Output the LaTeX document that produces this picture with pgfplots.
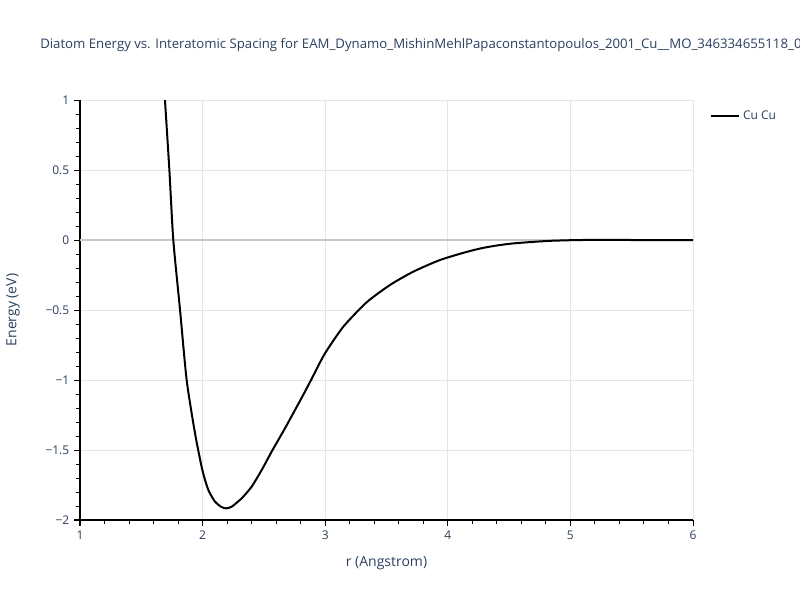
\documentclass[border=0pt]{standalone}
\usepackage{pgfplots}
\pgfplotsset{compat=1.18}
\usepackage{fontspec}
\setmainfont{Open Sans}
\definecolor{txt}{HTML}{2A3F5F}
\definecolor{grd}{HTML}{E5E5E5}
\definecolor{zl}{HTML}{C8C8C8}
\begin{document}
\begin{tikzpicture}[x=0.75pt,y=0.75pt]
\clip (0,0) rectangle (800,600);
\node[anchor=west, font=\fontsize{9.9}{12}\selectfont, text=txt, inner sep=0pt] at (40,555) {Diatom Energy vs. Interatomic Spacing for EAM\_Dynamo\_MishinMehlPapaconstantopoulos\_2001\_Cu\_\_MO\_346334655118\_005};
\begin{axis}[
  at={(60pt,60pt)}, anchor=south west,
  scale only axis, width=459.75pt, height=315pt,
  xmin=1, xmax=6, ymin=-2, ymax=1,
  axis x line*=bottom, axis y line*=left,
  axis line style={black, line width=0.75pt, -},
  xtick={1,2,3,4,5,6}, xticklabels={1,2,3,4,5,6},
  ytick={-2,-1.5,-1,-0.5,0,0.5,1},
  yticklabels={−2,−1.5,−1,−0.5,0,0.5,1},
  minor x tick num=4, minor y tick num=4,
  tick align=outside,
  major tick length=4.5pt, minor tick length=3pt,
  tick style={black, line width=0.75pt},
  grid=major, major grid style={grd, line width=0.75pt},
  extra y ticks={0}, extra y tick labels={},
  extra y tick style={grid=major, major grid style={zl, line width=1.5pt}},
  ticklabel style={font=\fontsize{9}{11}\selectfont, text=txt},
  xlabel={r (Angstrom)}, ylabel={Energy (eV)},
  label style={font=\fontsize{10.5}{12}\selectfont, text=txt},
  xlabel style={at={(axis description cs:0.5,-0.1024)}, anchor=center},
  ylabel style={at={(axis description cs:-0.1093,0.5)}, anchor=center},
  legend style={at={(axis description cs:1.028,0.962)}, anchor=west, draw=none, fill=none, inner sep=0pt, font=\fontsize{9}{11}\selectfont, text=txt},
  legend cell align=left,
  legend image code/.code={\draw[#1] (0pt,0pt) -- (21pt,0pt);},
]
\addplot[black, line width=1.5pt, smooth, tension=0.4] coordinates {
(1.68,1.18) (1.693,1.0) (1.729,0.5) (1.761,0.0) (1.816,-0.5) (1.870,-1.0)
(1.938,-1.38) (1.998,-1.643) (2.047,-1.786) (2.101,-1.869) (2.15,-1.905)
(2.19,-1.917) (2.237,-1.905) (2.319,-1.845) (2.40,-1.762) (2.482,-1.643)
(2.563,-1.512) (2.672,-1.345) (2.754,-1.214) (2.835,-1.083) (2.917,-0.945)
(2.998,-0.81) (3.148,-0.619) (3.338,-0.445) (3.529,-0.321) (3.719,-0.226)
(3.936,-0.143) (4.154,-0.085) (4.29,-0.056) (4.426,-0.036) (4.562,-0.022)
(4.834,-0.006) (5.1,0) (5.5,0) (6,0)
};
\addlegendentry{Cu Cu}
\end{axis}
\end{tikzpicture}
\end{document}
